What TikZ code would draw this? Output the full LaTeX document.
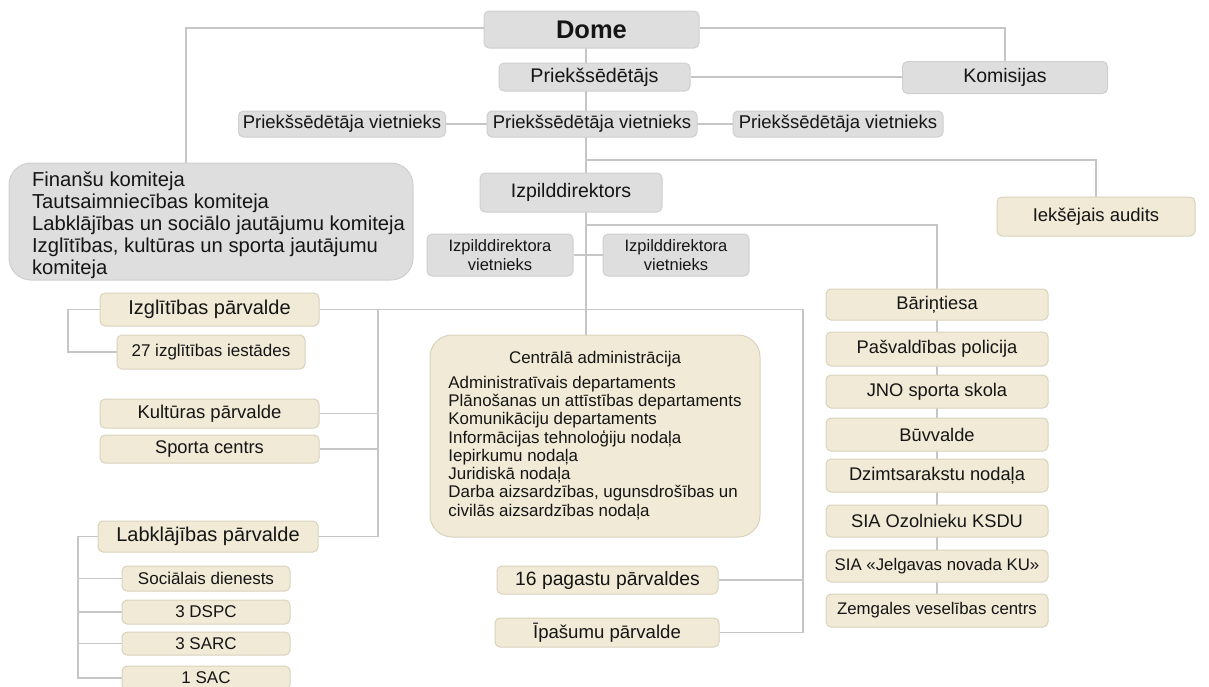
\documentclass[tikz,border=0pt]{standalone}
\usepackage{fontspec}
\setmainfont{Liberation Sans}
\usetikzlibrary{backgrounds}
\definecolor{gfill}{HTML}{DEDEDE}
\definecolor{gline}{HTML}{CFCFCF}
\definecolor{bfill}{HTML}{F0EAD6}
\definecolor{bline}{HTML}{D9D2BD}
\definecolor{cline}{HTML}{C6C6C6}
\definecolor{txt}{HTML}{151515}
\newcommand\fsz[2]{\fontsize{#1pt}{#2pt}\selectfont}
\tikzset{
  box/.style={rectangle, rounded corners=5pt, line width=1pt, inner sep=0pt, align=center, text=txt},
  gbox/.style={box, fill=gfill, draw=gline},
  bbox/.style={box, fill=bfill, draw=bline},
  conn/.style={draw=cline, line width=1.8pt},
}
\begin{document}
\begin{tikzpicture}[x=1pt,y=-1pt]
\useasboundingbox (0,0) rectangle (1209,686);
% top (gray)
\node[gbox, minimum width=215pt, minimum height=37pt, font=\fsz{25.5}{30}\bfseries] (dome) at (591.5,29.5) {Dome};
\node[gbox, minimum width=191pt, minimum height=28pt, font=\fsz{19.7}{22}] (pred) at (594.5,77) {Priekšsēdētājs};
\node[gbox, minimum width=205pt, minimum height=32pt, font=\fsz{19.5}{22}] (kom) at (1005,77.5) {Komisijas};
\node[gbox, minimum width=207pt, minimum height=26pt, font=\fsz{18.5}{21}] (pv1) at (342,124) {Priekšsēdētāja vietnieks};
\node[gbox, minimum width=210pt, minimum height=26pt, font=\fsz{18.5}{21}] (pv2) at (592,124) {Priekšsēdētāja vietnieks};
\node[gbox, minimum width=210pt, minimum height=26pt, font=\fsz{18.5}{21}] (pv3) at (838,124) {Priekšsēdētāja vietnieks};
\node[gbox, rounded corners=22pt, minimum width=404pt, minimum height=117pt, font=\fsz{20.2}{22}] (kc) at (211,221.5)
  {\raisebox{-4.5pt}[\height][\depth]{\begin{tabular}{@{\hspace{23pt}}l@{\hspace{8pt}}}Finanšu komiteja\\Tautsaimniecības komiteja\\Labklājības un sociālo jautājumu komiteja\\Izglītības, kultūras un sporta jautājumu\\komiteja\end{tabular}}};
\node[gbox, minimum width=182pt, minimum height=39pt, font=\fsz{19.5}{22}] (izp) at (571,192.5) {Izpilddirektors};
\node[gbox, minimum width=146pt, minimum height=42pt, font=\fsz{16.5}{19}] (iv1) at (500,255) {Izpilddirektora\\vietnieks};
\node[gbox, minimum width=146pt, minimum height=42pt, font=\fsz{16.5}{19}] (iv2) at (676,255) {Izpilddirektora\\vietnieks};
% beige
\node[bbox, minimum width=198pt, minimum height=39pt, font=\fsz{18.5}{21}] (audit) at (1096,216.5) {Iekšējais audits};
\node[bbox, minimum width=219pt, minimum height=33pt, font=\fsz{20}{23}] (izgl) at (209.5,309.5) {Izglītības pārvalde};
\node[bbox, minimum width=188pt, minimum height=34pt, font=\fsz{17}{20}] (izgl27) at (211,352) {27 izglītības iestādes};
\node[bbox, minimum width=219pt, minimum height=29pt, font=\fsz{18.5}{21}] (kult) at (209.5,413.5) {Kultūras pārvalde};
\node[bbox, minimum width=219pt, minimum height=28pt, font=\fsz{18.3}{21}] (sport) at (209.5,449) {Sporta centrs};
\node[bbox, minimum width=220pt, minimum height=31pt, font=\fsz{20}{23}] (labk) at (208,536.5) {Labklājības pārvalde};
\node[bbox, minimum width=168pt, minimum height=25pt, font=\fsz{17}{20}] (soc) at (206,578.5) {Sociālais dienests};
\node[bbox, minimum width=168pt, minimum height=24pt, font=\fsz{17}{20}] (dspc) at (206,612) {3 DSPC};
\node[bbox, minimum width=168pt, minimum height=23pt, font=\fsz{17}{20}] (sarc) at (206,643.5) {3 SARC};
\node[bbox, minimum width=168pt, minimum height=24pt, font=\fsz{17}{20}] (sac) at (206,678) {1 SAC};
\node[bbox, rounded corners=22pt, minimum width=330pt, minimum height=202pt, font=\fsz{16.9}{18.3}] (central) at (595,436)
  {\begin{tabular}{@{}l@{}}\multicolumn{1}{@{}c@{}}{Centrālā administrācija}\\[6.7pt]
   Administratīvais departaments\\
   Plānošanas un attīstības departaments\\
   Komunikāciju departaments\\
   Informācijas tehnoloģiju nodaļa\\
   Iepirkumu nodaļa\\
   Juridiskā nodaļa\\
   Darba aizsardzības, ugunsdrošības un\\
   civilās aizsardzības nodaļa\end{tabular}};
\node[bbox, minimum width=221pt, minimum height=28pt, font=\fsz{19.3}{22}] (pag) at (607.5,580) {16 pagastu pārvaldes};
\node[bbox, minimum width=224pt, minimum height=29pt, font=\fsz{18.6}{21}] (ipas) at (607,632.5) {Īpašumu pārvalde};
% right column
\node[bbox, minimum width=222pt, minimum height=31pt, font=\fsz{18.3}{21}] (bar) at (937,304.5) {Bāriņtiesa};
\node[bbox, minimum width=222pt, minimum height=34pt, font=\fsz{18.3}{21}] (pol) at (937,349) {Pašvaldības policija};
\node[bbox, minimum width=222pt, minimum height=33pt, font=\fsz{18.3}{21}] (jno) at (937,391.5) {JNO sporta skola};
\node[bbox, minimum width=222pt, minimum height=33pt, font=\fsz{18.3}{21}] (buv) at (937,434.5) {Būvvalde};
\node[bbox, minimum width=222pt, minimum height=33pt, font=\fsz{18.3}{21}] (dzim) at (937,475.5) {Dzimtsarakstu nodaļa};
\node[bbox, minimum width=222pt, minimum height=32pt, font=\fsz{18.3}{21}] (ozol) at (937,521) {SIA Ozolnieku KSDU};
\node[bbox, minimum width=222pt, minimum height=32pt, font=\fsz{16.8}{20}] (jelg) at (937,566) {SIA «Jelgavas novada KU»};
\node[bbox, minimum width=222pt, minimum height=33pt, font=\fsz{16.8}{20}] (zemg) at (937,610.5) {Zemgales veselības centrs};
% helper coordinates
\coordinate (k1) at (186,28);
\coordinate (t0) at (586,48);
\coordinate (t160) at (586,160);
\coordinate (t225) at (586,225);
\coordinate (r1) at (803,309.5);
\coordinate (l1) at (378,309.5);
\coordinate (b1) at (68,309.5);
\coordinate (b2) at (78,536.5);
\begin{scope}[on background layer]
\fill[white] (0,0) rectangle (1209,686);
\draw[conn] (dome.west |- k1) -- (k1) -- (k1 |- kc.north);
\draw[conn] (dome.east |- k1) -| (kom.north);
\draw[conn] (pred.east) -- (pred.east -| kom.west);
\draw[conn] (t0) -- (t0 |- central.north);
\draw[conn] (pv1.east) -- (pv3.west);
\draw[conn] (t160) -| (audit.north);
\draw[conn] (t225) -| (zemg.north);
\draw[conn] (iv1.east) -- (iv2.west);
\draw[conn] (izgl.east) -- (r1) |- (ipas.east);
\draw[conn] (pag.east) -- (pag.east -| r1);
\draw[conn] (l1) |- (labk.east);
\draw[conn] (kult.east) -- (kult.east -| l1);
\draw[conn] (sport.east) -- (sport.east -| l1);
\draw[conn] (izgl.west) -- (b1) |- (izgl27.west);
\draw[conn] (labk.west) -- (b2) |- (sac.west);
\draw[conn] (b2 |- soc.west) -- (soc.west);
\draw[conn] (b2 |- dspc.west) -- (dspc.west);
\draw[conn] (b2 |- sarc.west) -- (sarc.west);
\end{scope}
\end{tikzpicture}
\end{document}
